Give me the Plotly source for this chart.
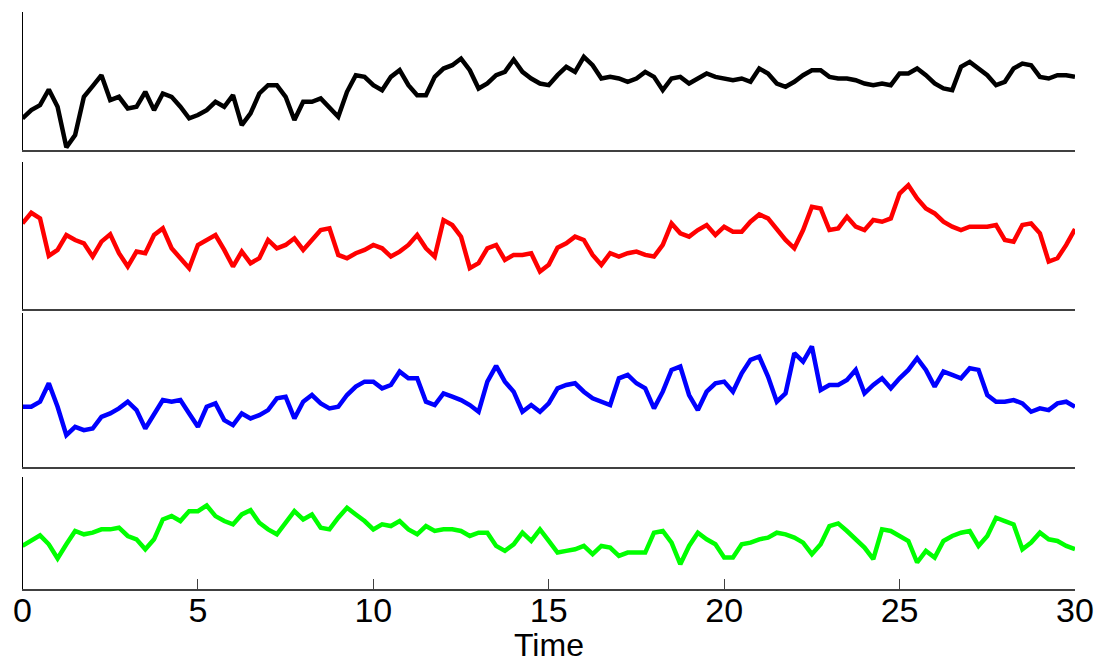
import numpy as np
import plotly.graph_objects as go

# time grid (s), step 0.25
time = [i * 0.25 for i in range(121)]

black = [95, 120, 135, 182, 130, 8, 45, 160, 192, 225, 150, 160, 125, 130, 175, 120,
         170, 160, 130, 95, 105, 120, 145, 130, 165, 75, 110, 170, 195, 195, 160, 90,
         145, 145, 155, 125, 100, 175, 225, 220, 195, 180, 220, 240, 195, 165, 165, 220,
         245, 255, 275, 240, 185, 200, 225, 235, 272, 235, 215, 200, 195, 225, 250, 235,
         280, 255, 215, 220, 215, 205, 215, 235, 220, 180, 215, 220, 200, 215, 230, 220,
         215, 210, 215, 205, 245, 230, 200, 190, 205, 225, 240, 240, 220, 215, 215, 210,
         200, 195, 200, 195, 230, 230, 245, 225, 200, 185, 180, 250, 265, 245, 225, 195,
         205, 245, 260, 255, 220, 215, 225, 225, 220]

red = [258, 290, 273, 160, 178, 223, 208, 198, 158, 203, 225, 168, 128, 173, 168, 223,
       243, 183, 153, 123, 193, 208, 223, 178, 128, 173, 138, 153, 208, 183, 193, 213,
       178, 208, 238, 243, 163, 153, 168, 178, 193, 183, 158, 173, 193, 223, 183, 158,
       268, 253, 218, 123, 138, 183, 193, 148, 163, 163, 168, 113, 133, 185, 198, 218,
       208, 163, 133, 168, 158, 168, 173, 163, 158, 193, 258, 228, 218, 238, 253, 223,
       248, 233, 233, 263, 285, 273, 238, 208, 183, 238, 308, 303, 238, 243, 278, 248,
       238, 268, 263, 273, 348, 373, 333, 303, 288, 263, 248, 238, 248, 248, 248, 253,
       208, 203, 253, 258, 228, 143, 153, 193, 241]

blue = [180, 180, 195, 250, 180, 95, 120, 110, 115, 150, 160, 175, 195, 170, 115, 160,
        200, 195, 200, 160, 120, 180, 190, 140, 125, 160, 145, 155, 170, 205, 210, 145,
        195, 215, 190, 175, 180, 215, 240, 255, 255, 235, 245, 285, 265, 265, 195, 185,
        220, 210, 200, 185, 165, 255, 302, 255, 225, 165, 185, 165, 190, 235, 245, 250,
        225, 205, 195, 185, 265, 275, 250, 235, 175, 225, 290, 300, 215, 170, 225, 250,
        255, 225, 280, 320, 330, 270, 195, 220, 340, 315, 360, 230, 245, 245, 260, 290,
        220, 245, 265, 235, 265, 290, 325, 290, 240, 285, 275, 265, 295, 290, 215, 195,
        195, 200, 190, 165, 175, 170, 190, 195, 180]

green = [130, 145, 162, 135, 92, 135, 175, 165, 170, 180, 180, 185, 160, 150, 120, 150,
         210, 220, 205, 235, 235, 252, 220, 205, 195, 225, 238, 200, 180, 165, 200, 235,
         210, 225, 185, 180, 215, 245, 225, 205, 180, 195, 190, 205, 180, 165, 190, 175,
         180, 180, 175, 160, 170, 170, 130, 115, 135, 170, 145, 180, 145, 110, 115, 120,
         130, 105, 130, 125, 100, 110, 110, 110, 170, 175, 140, 75, 130, 170, 150, 135,
         95, 95, 135, 140, 150, 155, 170, 165, 155, 140, 105, 135, 190, 198, 175, 150,
         125, 90, 180, 175, 160, 145, 80, 115, 95, 145, 160, 170, 175, 130, 160, 215,
         205, 195, 120, 140, 170, 150, 145, 130, 120]

series = [black, red, blue, green]
colors = ["#000000", "#ff0000", "#0000ff", "#00ff00"]
y_tops = [415, 443, 460, 338]
x_ticks = [0, 5, 10, 15, 20, 25, 30]

W, H = 1102, 666
x0_px, x1_px = 22.5, 1075
panels_px = [(12, 150), (162, 309), (313, 467), (477, 589)]
FONT = "Liberation Sans, Arial, sans-serif"

fig = go.Figure()
layout = dict(
    width=W, height=H,
    margin=dict(l=0, r=0, t=0, b=0, pad=0),
    paper_bgcolor="white", plot_bgcolor="white",
    showlegend=False,
    font=dict(family=FONT, color="black"),
)

for i, (vals, col, ytop, (ptop, pbot)) in enumerate(zip(series, colors, y_tops, panels_px)):
    n = i + 1
    xa = "x" if n == 1 else f"x{n}"
    ya = "y" if n == 1 else f"y{n}"
    fig.add_trace(go.Scatter(x=time, y=vals, mode="lines",
                             line=dict(color=col, width=4.5),
                             xaxis=xa, yaxis=ya, hoverinfo="skip"))
    last = (n == 4)
    layout["xaxis" if n == 1 else f"xaxis{n}"] = dict(
        domain=[x0_px / W, x1_px / W],
        range=[0, 30],
        anchor=ya,
        automargin=False,
        showgrid=False, zeroline=False,
        showline=True, linecolor="#404040", linewidth=1.5,
        tickmode="array", tickvals=x_ticks,
        ticktext=[str(t) for t in x_ticks],
        showticklabels=last,
        ticks="inside" if last else "",
        ticklen=10, tickwidth=1, tickcolor="#404040",
        ticklabelstandoff=-10,
        tickfont=dict(size=34, color="black", family=FONT),
        fixedrange=True,
    )
    layout["yaxis" if n == 1 else f"yaxis{n}"] = dict(
        domain=[1 - pbot / H, 1 - ptop / H],
        range=[0, ytop],
        anchor=xa,
        automargin=False,
        showgrid=False, zeroline=False,
        showline=True, linecolor="black", linewidth=1,
        showticklabels=False, ticks="",
        fixedrange=True,
    )

fig.update_layout(**layout)
fig.add_annotation(text="Time", x=15, xref="x4", y=1 - 645 / H, yref="paper",
                   xanchor="center", yanchor="middle", showarrow=False, borderpad=0,
                   font=dict(size=32, color="black", family=FONT))

fig.write_html("out.html")
